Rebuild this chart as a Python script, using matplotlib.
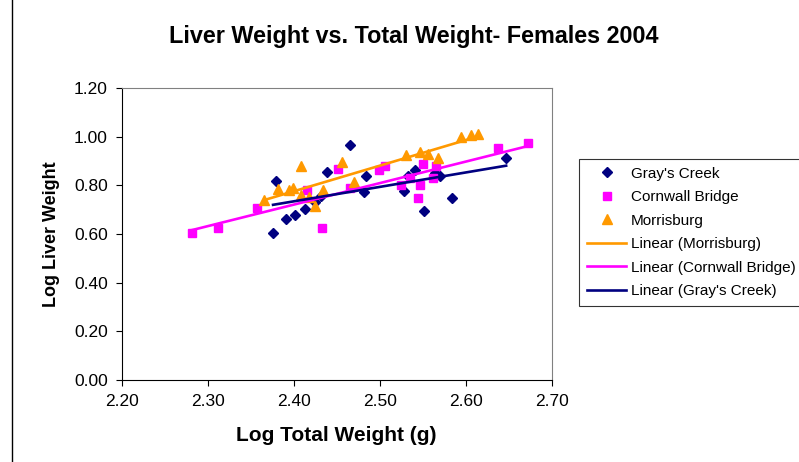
import numpy as np
import matplotlib.pyplot as plt

plt.rcParams['font.family'] = ['Liberation Sans', 'DejaVu Sans']

# Gray's Creek
gc_x = [2.376, 2.380, 2.391, 2.402, 2.413, 2.425, 2.432, 2.439, 2.465, 2.484, 2.482,
        2.528, 2.533, 2.541, 2.552, 2.564, 2.570, 2.584, 2.647]
gc_y = [0.603, 0.819, 0.660, 0.677, 0.703, 0.733, 0.756, 0.854, 0.966, 0.838, 0.774,
        0.778, 0.837, 0.864, 0.695, 0.851, 0.838, 0.747, 0.911]

# Cornwall Bridge
cb_x = [2.282, 2.312, 2.357, 2.416, 2.433, 2.452, 2.466, 2.499, 2.506, 2.525,
        2.535, 2.547, 2.545, 2.550, 2.562, 2.566, 2.637, 2.673]
cb_y = [0.604, 0.625, 0.706, 0.781, 0.623, 0.867, 0.788, 0.863, 0.880, 0.801,
        0.830, 0.803, 0.748, 0.888, 0.830, 0.880, 0.952, 0.973]

# Morrisburg
mb_x = [2.365, 2.382, 2.394, 2.399, 2.409, 2.409, 2.418, 2.425, 2.434, 2.456,
        2.470, 2.531, 2.547, 2.556, 2.568, 2.595, 2.606, 2.614]
mb_y = [0.738, 0.783, 0.781, 0.789, 0.880, 0.760, 0.754, 0.715, 0.781, 0.895,
        0.815, 0.925, 0.935, 0.927, 0.912, 0.999, 1.007, 1.013]

navy = '#000080'
magenta = '#FF00FF'
orange = '#FF9900'

fig = plt.figure(figsize=(7.99, 4.62), dpi=100)
ax = fig.add_axes([0.1523, 0.1775, 0.5382, 0.632])

ax.plot(gc_x, gc_y, 'D', color=navy, ms=5, ls='none', label="Gray's Creek", zorder=3)
ax.plot(cb_x, cb_y, 's', color=magenta, ms=5.8, ls='none', label='Cornwall Bridge', zorder=3)
ax.plot(mb_x, mb_y, '^', color=orange, ms=7.8, ls='none', label='Morrisburg', zorder=3)


def trend(x, y):
    x = np.array(x)
    m, b = np.polyfit(x, y, 1)
    xs = np.array([x.min(), x.max()])
    return xs, m * xs + b


for xs, ys, c, lab in [(mb_x, mb_y, orange, 'Linear (Morrisburg)'),
                       (cb_x, cb_y, magenta, 'Linear (Cornwall Bridge)'),
                       (gc_x, gc_y, navy, "Linear (Gray's Creek)")]:
    tx, ty = trend(xs, ys)
    ax.plot(tx, ty, color=c, lw=1.9, label=lab, zorder=4)

ax.set_xlim(2.2, 2.7)
ax.set_ylim(0, 1.2)
ax.set_xticks(np.arange(2.2, 2.71, 0.1))
ax.set_yticks(np.arange(0, 1.21, 0.2))
ax.xaxis.set_major_formatter(plt.FormatStrFormatter('%.2f'))
ax.yaxis.set_major_formatter(plt.FormatStrFormatter('%.2f'))
ax.tick_params(direction='out', length=4, width=0.8, labelsize=12.5, colors='black', pad=6)

for s in ['top', 'right']:
    ax.spines[s].set_color('#808080')
    ax.spines[s].set_linewidth(0.8)

ax.set_xlabel('Log Total Weight (g)', fontsize=15, fontweight='bold', labelpad=12)
ax.set_ylabel('Log Liver Weight', fontsize=13, fontweight='bold', labelpad=10)
fig.text(0.518, 0.92, 'Liver Weight vs. Total Weight- Females 2004',
         fontsize=16.8, fontweight='bold', ha='center', va='center')

leg = ax.legend(loc='upper left', bbox_to_anchor=(0.7247, 0.6558),
                bbox_transform=fig.transFigure, fontsize=11, frameon=True,
                fancybox=False, edgecolor='black', handlelength=2.6,
                labelspacing=0.62, borderaxespad=0, handletextpad=0.3,
                borderpad=0.5)
leg.get_frame().set_linewidth(0.8)

# chart border line on the left
fig.add_artist(plt.Line2D([0.015, 0.015], [0, 1], color='black', lw=1, transform=fig.transFigure))

fig.savefig('out.png', dpi=100)
